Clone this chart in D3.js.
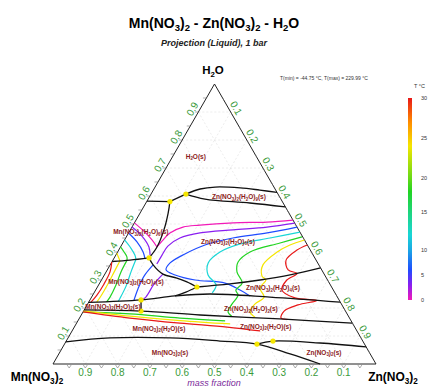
<!DOCTYPE html>
<html><head><meta charset="utf-8">
<script src="https://cdn.jsdelivr.net/npm/d3@7"></script>
<style>
body{margin:0;background:#fff}
svg{display:block;font-family:"Liberation Sans",Arial,Helvetica,sans-serif}
</style>
</head><body>
<svg id="chart" width="430" height="388"></svg>
<script>
// ---- Data: points are [w(Zn(NO3)2), w(H2O)] mass fractions ----
const tickValues = [0.1,0.2,0.3,0.4,0.5,0.6,0.7,0.8,0.9];
const tempTicks = [0,5,10,15,20,25,30];

// phase-field boundaries (liquidus valleys)
const boundaries = [
  [[0,0.582],[0.072,0.580]],
  [[0.072,0.580],[0.108,0.607],[0.143,0.625],[0.186,0.632],[0.265,0.629],[0.330,0.621],[0.387,0.613]],
  [[0.108,0.607],[0.176,0.589],[0.322,0.575],[0.439,0.561]],
  [[0.072,0.580],[0.087,0.539],[0.104,0.479],[0.113,0.418],[0.108,0.379]],
  [[0,0.366],[0.053,0.371],[0.108,0.379]],
  [[0.108,0.379],[0.133,0.354],[0.180,0.321],[0.230,0.307],[0.268,0.293],[0.308,0.275]],
  [[0.308,0.275],[0.405,0.286],[0.491,0.300],[0.575,0.318],[0.657,0.343]],
  [[0.308,0.275],[0.283,0.257],[0.256,0.243]],
  [[0,0.220],[0.158,0.229],[0.256,0.243],[0.361,0.250],[0.552,0.239],[0.778,0.221]],
  [[0,0.193],[0.178,0.189],[0.368,0.175],[0.622,0.161],[0.853,0.146]],
  [[0.158,0.229],[0.178,0.189]],
  [[0,0.079],[0.130,0.093],[0.316,0.093],[0.476,0.082],[0.596,0.071],[0.716,0.036],[0.827,0]],
  [[0.596,0.071],[0.640,0.082],[0.789,0.075],[0.939,0.061]]
];

// invariant points
const invariants = [[0.072,0.580],[0.108,0.607],[0.108,0.379],[0.308,0.275],[0.158,0.229],[0.178,0.189],[0.596,0.071],[0.640,0.082]];

// isotherms: temperature (deg C) and polyline
const isotherms = [
  {t:0,  pts:[[0.486,0.514],[0.409,0.507],[0.306,0.504],[0.207,0.496],[0.158,0.489],[0.128,0.468],[0.118,0.439],[0.113,0.418]]},
  {t:0,  pts:[[0,0.504],[0.049,0.471],[0.085,0.443],[0.113,0.418]]},
  {t:3,  pts:[[0.497,0.503],[0.418,0.489],[0.318,0.479],[0.221,0.468],[0.168,0.450],[0.145,0.421],[0.143,0.389],[0.143,0.357]]},
  {t:3,  pts:[[0,0.489],[0.047,0.457],[0.088,0.418],[0.106,0.389]]},
  {t:3,  pts:[[0.180,0.321],[0.170,0.286],[0.168,0.239],[0.160,0.229]]},
  {t:6,  pts:[[0.511,0.489],[0.429,0.468],[0.332,0.450],[0.258,0.425],[0.212,0.393],[0.182,0.361],[0.182,0.336],[0.219,0.318],[0.290,0.300],[0.388,0.289],[0.447,0.264],[0.488,0.243]]},
  {t:6,  pts:[[0,0.468],[0.042,0.436],[0.079,0.400],[0.096,0.377]]},
  {t:6,  pts:[[0.133,0.354],[0.125,0.314],[0.129,0.268],[0.137,0.227]]},
  {t:12, pts:[[0.529,0.471],[0.447,0.450],[0.365,0.429],[0.317,0.400],[0.300,0.361],[0.321,0.318],[0.364,0.282],[0.366,0.254]]},
  {t:12, pts:[[0,0.443],[0.034,0.414],[0.059,0.389],[0.070,0.374]]},
  {t:12, pts:[[0.070,0.374],[0.077,0.329],[0.087,0.279],[0.090,0.236],[0.090,0.223]]},
  {t:18, pts:[[0.544,0.454],[0.487,0.432],[0.410,0.400],[0.391,0.364],[0.405,0.329],[0.441,0.289],[0.434,0.264],[0.450,0.246],[0.447,0.214],[0.449,0.186],[0.469,0.170]]},
  {t:18, pts:[[0,0.418],[0.020,0.400],[0.038,0.382],[0.044,0.370]]},
  {t:18, pts:[[0.044,0.370],[0.046,0.329],[0.054,0.282],[0.057,0.239],[0.055,0.222]]},
  {t:18, pts:[[0,0.186],[0.149,0.179],[0.311,0.164],[0.456,0.154]]},
  {t:24, pts:[[0.557,0.443],[0.521,0.425],[0.494,0.400],[0.473,0.354],[0.490,0.314],[0.509,0.300],[0.505,0.271],[0.534,0.239],[0.518,0.214],[0.517,0.186],[0.542,0.167]]},
  {t:24, pts:[[0,0.396],[0.008,0.386],[0.023,0.369]]},
  {t:24, pts:[[0.023,0.369],[0.025,0.329],[0.027,0.286],[0.027,0.243],[0.025,0.221]]},
  {t:24, pts:[[0,0.190],[0.153,0.171],[0.316,0.155],[0.477,0.143]]},
  {t:30, pts:[[0.575,0.425],[0.552,0.407],[0.536,0.371],[0.560,0.336],[0.594,0.323],[0.574,0.300],[0.577,0.264],[0.631,0.236],[0.704,0.227],[0.653,0.211],[0.621,0.189],[0.624,0.164],[0.654,0.159]]},
  {t:30, pts:[[0,0.364],[0.012,0.329],[0.015,0.286],[0.013,0.246],[0.007,0.220]]},
  {t:30, pts:[[0,0.186],[0.156,0.164],[0.320,0.146],[0.473,0.132],[0.582,0.118]]}
];

// phase-field labels: [w(Zn), w(H2O)] and text pieces (flag "s" = subscript)
const fieldLabels = [
  {p:[0.076,0.732], parts:[["H"],["2","s"],["O(s)"]]},
  {p:[0.281,0.589], parts:[["Zn(NO"],["3","s"],[")"],["2","s"],["(H"],["2","s"],["O)"],["9","s"],["(s)"]]},
  {p:[0.040,0.464], parts:[["Mn(NO"],["3","s"],[")"],["2","s"],["(H"],["2","s"],["O)"],["6","s"],["(s)"]]},
  {p:[0.327,0.429], parts:[["Zn(NO"],["3","s"],[")"],["2","s"],["(H"],["2","s"],["O)"],["6","s"],["(s)"]]},
  {p:[0.114,0.286], parts:[["Mn(NO"],["3","s"],[")"],["2","s"],["(H"],["2","s"],["O)"],["4","s"],["(s)"]]},
  {p:[0.549,0.264], parts:[["Zn(NO"],["3","s"],[")"],["2","s"],["(H"],["2","s"],["O)"],["4","s"],["(s)"]]},
  {p:[0.087,0.197], parts:[["Mn(NO"],["3","s"],[")"],["2","s"],["(H"],["2","s"],["O)"],["2","s"],["(s)"]]},
  {p:[0.518,0.189], parts:[["Zn(NO"],["3","s"],[")"],["2","s"],["(H"],["2","s"],["O)"],["2","s"],["(s)"]]},
  {p:[0.269,0.118], parts:[["Mn(NO"],["3","s"],[")"],["2","s"],["(H"],["2","s"],["O)(s)"]]},
  {p:[0.596,0.125], parts:[["Zn(NO"],["3","s"],[")"],["2","s"],["(H"],["2","s"],["O)(s)"]]},
  {p:[0.346,0.032], parts:[["Mn(NO"],["3","s"],[")"],["2","s"],["(s)"]]},
  {p:[0.823,0.032], parts:[["Zn(NO"],["3","s"],[")"],["2","s"],["(s)"]]}
];

// ---- geometry ----
const svg = d3.select("#chart");
const sx = d3.scaleLinear().domain([0,1]).range([53,376]);
const sy = d3.scaleLinear().domain([0,1]).range([364,84]);
const px = d => sx(d[0] + d[1]/2);
const py = d => sy(d[1]);

// colour bar: temperature -> vertical position and colour
const tY = d3.scaleLinear().domain(tempTicks).range([300,275,250,212,178,138,98]);
const tColor = d3.scaleLinear()
  .domain([0,3,6,12,18,24,27,30])
  .range(["#f21ab8","#8a1ef0","#1f4cff","#19d6d6","#22d422","#f5e600","#ff8c00","#e81818"]);

// text with chemical subscripts
function addText(sel, parts, size){
  let shifted = false;
  parts.forEach(([s,flag])=>{
    const ts = sel.append("tspan").text(s);
    if(flag==="s"){
      ts.attr("font-size",size*0.68).attr("dy", shifted ? 0 : size*0.22);
      shifted = true;
    } else if(shifted){
      ts.attr("dy", -size*0.22);
      shifted = false;
    }
  });
}

// grid
const grid = svg.append("g").attr("stroke","#d9d9d9").attr("stroke-width",0.5).attr("stroke-dasharray","2,2").attr("fill","none");
tickValues.forEach(v=>{
  grid.append("line").attr("x1",px([0,v])).attr("y1",py([0,v])).attr("x2",px([1-v,v])).attr("y2",py([1-v,v]));
  grid.append("line").attr("x1",px([v,0])).attr("y1",py([v,0])).attr("x2",px([v,1-v])).attr("y2",py([v,1-v]));
  grid.append("line").attr("x1",px([0,1-v])).attr("y1",py([0,1-v])).attr("x2",px([1-v,0])).attr("y2",py([1-v,0]));
});

// triangle frame
const corners = [[0,0],[1,0],[0,1]];
svg.append("path")
  .attr("d", d3.line().x(px).y(py)(corners)+"Z")
  .attr("fill","none").attr("stroke","#222").attr("stroke-width",1);

// small edge ticks
const tk = svg.append("g").attr("stroke","#777").attr("stroke-width",0.6).attr("fill","none");
d3.range(0.05,1,0.05).forEach(v=>{
  const b=[v,0], x=px(b), y=py(b);
  tk.append("path").attr("d",`M${x-2},${y+1}L${x},${y+4}L${x+2},${y+1}`);
  const l=[0,v], xl=px(l), yl=py(l);
  tk.append("line").attr("x1",xl).attr("y1",yl).attr("x2",xl-3.5).attr("y2",yl);
  const r=[1-v,v], xr=px(r), yr=py(r);
  tk.append("line").attr("x1",xr).attr("y1",yr).attr("x2",xr+1.8).attr("y2",yr+3);
});

// isotherms
const smooth = d3.line().x(px).y(py).curve(d3.curveCatmullRom.alpha(0.5));
svg.append("g").selectAll("path").data(isotherms).join("path")
  .attr("d", d=>smooth(d.pts))
  .attr("fill","none").attr("stroke", d=>tColor(d.t)).attr("stroke-width",1.2);

// boundaries
svg.append("g").selectAll("path").data(boundaries).join("path")
  .attr("d", d=>smooth(d))
  .attr("fill","none").attr("stroke","#111").attr("stroke-width",1.3);

// invariant points
svg.append("g").selectAll("circle").data(invariants).join("circle")
  .attr("cx",px).attr("cy",py).attr("r",2.6).attr("fill","#f5e600");

// field labels
fieldLabels.forEach(f=>{
  const t = svg.append("text").attr("x",px(f.p)).attr("y",py(f.p))
    .attr("text-anchor","middle").attr("font-size",6.5).attr("font-weight","bold").attr("fill","#8b1a1a");
  addText(t, f.parts, 6.5);
});

// axis tick labels
const green = "#3a9a3a";
const ax = svg.append("g").attr("fill",green).attr("font-size",10);
tickValues.forEach(v=>{
  // bottom: Mn(NO3)2 fraction
  ax.append("text").attr("x",px([1-v,0])).attr("y",py([1-v,0])+12).attr("text-anchor","middle").text(v.toFixed(1));
  // left: H2O fraction
  const lx = px([0,v]) - 6, ly = py([0,v]) - 3;
  ax.append("text").attr("transform",`translate(${lx},${ly}) rotate(-60)`).attr("text-anchor","middle").attr("dy","0.35em").text(v.toFixed(1));
  // right: Zn(NO3)2 fraction
  const rx = px([v,1-v]) + 5.5, ry = py([v,1-v]) - 4;
  ax.append("text").attr("transform",`translate(${rx},${ry}) rotate(60)`).attr("text-anchor","middle").attr("dy","0.35em").text(v.toFixed(1));
});

// corner labels
const cH = svg.append("text").attr("x",213).attr("y",74).attr("text-anchor","middle").attr("font-size",11.5).attr("font-weight","bold");
addText(cH, [["H"],["2","s"],["O"]], 11.5);
const cMn = svg.append("text").attr("x",37).attr("y",381).attr("text-anchor","middle").attr("font-size",12).attr("font-weight","bold");
addText(cMn, [["Mn(NO"],["3","s"],[")"],["2","s"]], 12);
const cZn = svg.append("text").attr("x",393).attr("y",381).attr("text-anchor","middle").attr("font-size",12).attr("font-weight","bold");
addText(cZn, [["Zn(NO"],["3","s"],[")"],["2","s"]], 12);
svg.append("text").attr("x",214).attr("y",386).attr("text-anchor","middle").attr("font-size",9)
  .attr("font-style","italic").attr("fill","#7a2a9a").text("mass fraction");

// titles
const title = svg.append("text").attr("x",214).attr("y",28).attr("text-anchor","middle").attr("font-size",14).attr("font-weight","bold");
addText(title, [["Mn(NO"],["3","s"],[")"],["2","s"],[" - Zn(NO"],["3","s"],[")"],["2","s"],[" - H"],["2","s"],["O"]], 14);
svg.append("text").attr("x",214).attr("y",46).attr("text-anchor","middle").attr("font-size",9)
  .attr("font-weight","bold").attr("font-style","italic").attr("fill","#222").text("Projection (Liquid),  1 bar");

svg.append("text").attr("x",280).attr("y",80).attr("font-size",5).attr("fill","#333")
  .text("T(min) = -44.75 \u00B0C, T(max) = 229.99 \u00B0C");

// colour bar
const defs = svg.append("defs");
const grad = defs.append("linearGradient").attr("id","tbar").attr("gradientUnits","userSpaceOnUse")
  .attr("x1",0).attr("x2",0).attr("y1",tY(0)).attr("y2",tY(30));
d3.range(0,30.01,1).forEach(t=>{
  grad.append("stop").attr("offset",(tY(t)-tY(0))/(tY(30)-tY(0))).attr("stop-color",tColor(t));
});
svg.append("rect").attr("x",408).attr("y",tY(30)).attr("width",4).attr("height",tY(0)-tY(30)).attr("fill","url(#tbar)");
svg.append("g").selectAll("text").data(tempTicks).join("text")
  .attr("x",421).attr("y",d=>tY(d)+2).attr("font-size",5.5).attr("fill","#333").text(d=>d);
svg.append("text").attr("x",414).attr("y",88).attr("font-size",5.5).attr("fill","#333").text("T \u00B0C");
</script>
</body></html>
